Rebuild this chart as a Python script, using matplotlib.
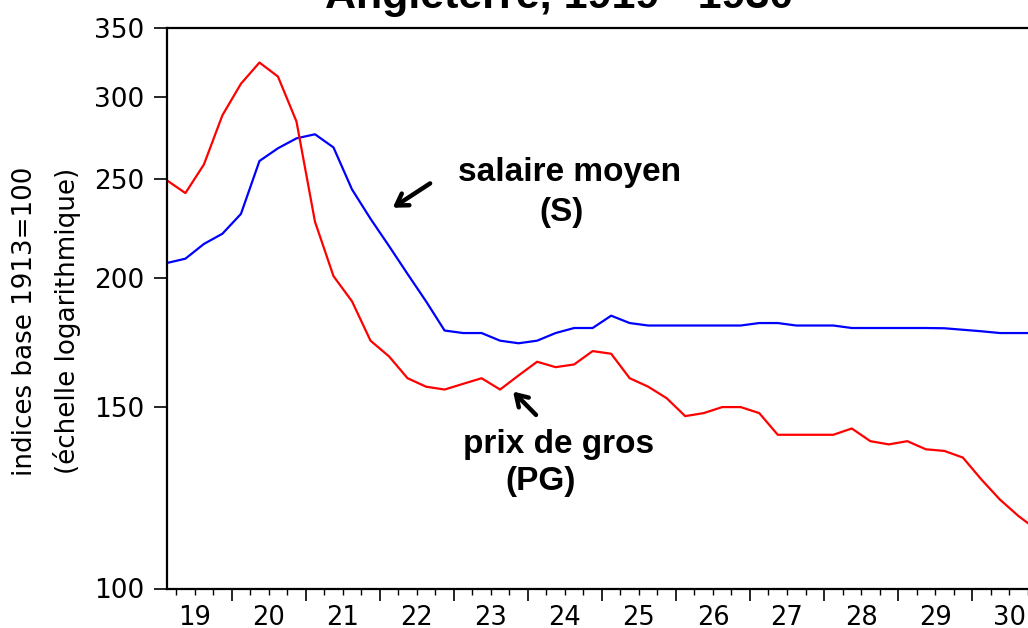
import numpy as np
import matplotlib.pyplot as plt
from matplotlib.ticker import FixedLocator, NullLocator, FixedFormatter

# Angleterre, indices trimestriels 1919T1 - 1930T4 (base 1913 = 100)
first_quarter = 1919.125
salaire_moyen = [207, 209, 216, 221, 231, 260, 267.5, 273.5, 276, 268, 244, 228.5,
                 215, 202, 190, 178, 177, 177, 174, 173, 174, 177, 179, 179,
                 184, 181, 180, 180, 180, 180, 180, 180, 181, 181, 180, 180,
                 180, 179, 179, 179, 179, 179, 178.9, 178.3, 177.7, 177, 177, 177]
prix_de_gros = [249, 242, 258, 288, 309, 324, 314, 284, 227, 201, 190, 174,
                168, 160, 157, 156, 158, 160, 156, 161, 166, 164, 165, 170,
                169, 160, 157, 153, 147, 148, 150, 150, 148, 141, 141, 141,
                141, 143, 139, 138, 139, 136.5, 136, 134, 127.6, 122, 117.6, 114]
years = list(range(1919, 1931))
year_labels = [str(y)[2:] for y in years]
y_ticks = [100, 150, 200, 250, 300, 350]

t = first_quarter + 0.25 * np.arange(len(salaire_moyen))

fig = plt.figure(figsize=(10.28, 6.28), dpi=100)
ax = fig.add_axes([166.9 / 1028, 1 - 588.5 / 628, 870 / 1028, 560.5 / 628])

ax.plot(t, salaire_moyen, color='#0000ff', lw=1.6)
ax.plot(t, prix_de_gros, color='#ff0000', lw=1.6)

ax.set_yscale('log')
ax.set_ylim(100, 350)
ax.set_xlim(first_quarter, first_quarter + 11.75)
ax.yaxis.set_major_locator(FixedLocator(y_ticks))
ax.yaxis.set_major_formatter(FixedFormatter([str(v) for v in y_ticks]))
ax.yaxis.set_minor_locator(NullLocator())

ax.xaxis.set_major_locator(FixedLocator(years[1:]))
ax.xaxis.set_minor_locator(FixedLocator(np.arange(1919.25, 1931, 0.25)))
ax.xaxis.set_major_formatter(FixedFormatter([''] * len(years[1:])))

for s in ['left', 'bottom', 'top']:
    ax.spines[s].set_linewidth(1.6)
ax.spines['right'].set_visible(False)
ax.tick_params(axis='y', length=9.4, width=1.2, pad=7.0, labelsize=19)
ax.tick_params(axis='x', which='major', length=8.6, width=1.2)
ax.tick_params(axis='x', which='minor', length=4.3, width=1.0)

for y, lab in zip(years, year_labels):
    ax.annotate(lab, xy=(y + 0.5, 0), xycoords=('data', 'axes fraction'),
                xytext=(0, -26.2), textcoords='offset points',
                ha='center', va='baseline', fontsize=18.5, annotation_clip=False)

bold = dict(family='Liberation Sans', fontweight='bold', fontsize=24,
            ha='center', va='baseline')
ax.text(1924.57, 248.6, 'salaire moyen', **bold)
ax.text(1924.46, 227.3, '(S)', **bold)
ax.text(1924.41, 135.4, 'prix de gros', **bold)
ax.text(1924.17, 124.6, '(PG)', **bold)

arrow = dict(arrowstyle='->,head_length=0.8,head_width=0.5', lw=3.2, color='black',
             shrinkA=0, shrinkB=0)
ax.annotate('', xy=(1922.175, 234.2), xytext=(1922.68, 247.3), arrowprops=arrow)
ax.annotate('', xy=(1923.80, 155.3), xytext=(1924.11, 147.4), arrowprops=arrow)

fig.text(559 / 1028, 1 - 8 / 628, 'Angleterre, 1919 - 1930', family='Liberation Sans',
         fontweight='bold', fontsize=31, ha='center', va='baseline')
fig.text(25 / 1028, 1 - 321 / 628, 'indices base 1913=100', rotation=90,
         fontsize=18.8, ha='center', va='center')
fig.text(67 / 1028, 1 - 321 / 628, '(échelle logarithmique)', rotation=90,
         fontsize=18.8, ha='center', va='center')

fig.savefig('out.png', dpi=100)
